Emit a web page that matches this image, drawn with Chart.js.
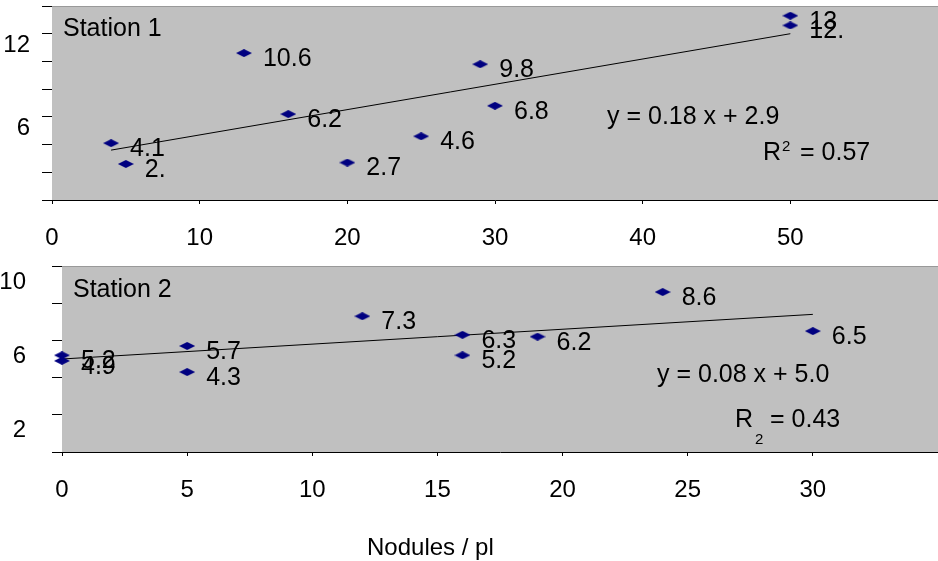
<!DOCTYPE html>
<html>
<head>
<meta charset="utf-8">
<script src="https://cdn.jsdelivr.net/npm/chart.js@4"></script>
<style>
  html, body { margin: 0; padding: 0; overflow: hidden; background: #fff; }
  canvas { display: block; }
</style>
</head>
<body>
<canvas id="chartStation1" width="938" height="255"></canvas>
<canvas id="chartStation2" width="938" height="306"></canvas>
<script>
// Station 1
const s1X = [4, 5, 13, 16, 20, 25, 29, 30, 50, 50];
const s1Y = [4.1, 2.6, 10.6, 6.2, 2.7, 4.6, 9.8, 6.8, 13.3, 12.6];
const s1Labels = ['4.1', '2.', '10.6', '6.2', '2.7', '4.6', '9.8', '6.8', '13', '12.'];
const s1TrendX = [4, 50];
const s1TrendY = [3.6, 12.0];
const s1XTicks = [0, 10, 20, 30, 40, 50];
const s1YTicks = [6, 12];

// Station 2
const s2X = [0, 0, 5, 5, 12, 16, 16, 19, 24, 30];
const s2Y = [5.2, 4.9, 5.7, 4.3, 7.3, 6.3, 5.2, 6.2, 8.6, 6.5];
const s2Labels = ['5.2', '4.9', '5.7', '4.3', '7.3', '6.3', '5.2', '6.2', '8.6', '6.5'];
const s2TrendX = [0, 30];
const s2TrendY = [5.0, 7.4];
const s2XTicks = [0, 5, 10, 15, 20, 25, 30];
const s2YTicks = [2, 6, 10];

const FONT = '"Liberation Sans", Arial, sans-serif';

// flat navy diamond used as marker
function diamond(w, h) {
  const c = document.createElement('canvas');
  c.width = w; c.height = h;
  const g = c.getContext('2d');
  g.fillStyle = '#000080';
  g.beginPath();
  g.moveTo(w / 2, 0); g.lineTo(w, h / 2); g.lineTo(w / 2, h); g.lineTo(0, h / 2);
  g.closePath();
  g.fill();
  return c;
}
const marker = diamond(16, 8);

function toPoints(xs, ys) {
  return xs.map((x, i) => ({ x: x, y: ys[i] }));
}

// gray plot area, point labels and free texts
function decorPlugin(labels, texts) {
  return {
    id: 'decor',
    beforeDatasetsDraw(chart) {
      const a = chart.chartArea, ctx = chart.ctx;
      ctx.save();
      ctx.fillStyle = '#c0c0c0';
      ctx.fillRect(a.left, a.top, a.right - a.left, a.bottom - a.top);
      ctx.strokeStyle = '#999999';
      ctx.lineWidth = 1;
      ctx.beginPath();
      ctx.moveTo(a.left, a.top + 0.5);
      ctx.lineTo(a.right, a.top + 0.5);
      ctx.stroke();
      ctx.restore();
    },
    afterDatasetsDraw(chart) {
      const a = chart.chartArea, ctx = chart.ctx;
      ctx.save();
      ctx.fillStyle = '#000';
      ctx.textAlign = 'left';
      ctx.textBaseline = 'middle';
      ctx.font = '25px ' + FONT;
      chart.getDatasetMeta(0).data.forEach((pt, i) => {
        ctx.fillText(labels[i], pt.x + 19, pt.y + 6);
      });
      texts.forEach(t => {
        ctx.font = (t.size || 25) + 'px ' + FONT;
        ctx.fillText(t.text, a.left + t.dx, a.top + t.dy);
      });
      ctx.restore();
    }
  };
}

function makeChart(id, cfg) {
  const ctx = document.getElementById(id).getContext('2d');
  return new Chart(ctx, {
    type: 'scatter',
    data: {
      datasets: [{
        data: toPoints(cfg.xs, cfg.ys),
        pointStyle: marker,
        pointRadius: 8,
        clip: false
      }, {
        data: toPoints(cfg.trendX, cfg.trendY),
        showLine: true,
        borderColor: '#000',
        borderWidth: 1,
        pointRadius: 0,
        clip: false
      }]
    },
    options: {
      responsive: false,
      devicePixelRatio: 1,
      animation: false,
      layout: { autoPadding: false, padding: { top: cfg.padTop, left: 0, right: 0, bottom: 0 } },
      plugins: { legend: { display: false }, tooltip: { enabled: false } },
      scales: {
        x: {
          type: 'linear', min: 0, max: cfg.xMax,
          ticks: {
            stepSize: cfg.xStep, autoSkip: false, maxRotation: 0,
            color: '#000', font: { size: 24, family: FONT }, padding: 20,
            callback: v => cfg.xTicks.includes(v) ? String(v) : ''
          },
          grid: { drawOnChartArea: false, color: '#000', tickLength: 4 },
          border: { color: '#000' },
          afterFit: s => {
            s.height = cfg.xHeight;
            s.paddingLeft = 0; s.paddingRight = 0;
          }
        },
        y: {
          type: 'linear', min: 0, max: cfg.yMax,
          ticks: {
            stepSize: 2, autoSkip: false,
            color: '#000', font: { size: 24, family: FONT },
            padding: cfg.yPad, labelOffset: cfg.yLabelOffset,
            callback: v => cfg.yTicks.includes(v) ? String(v) : ''
          },
          grid: { drawOnChartArea: false, color: '#000', tickLength: 10 },
          border: { color: '#000' },
          afterFit: s => {
            s.width = cfg.yWidth;
            s.paddingTop = 0; s.paddingBottom = 0;
          }
        }
      }
    },
    plugins: [decorPlugin(cfg.labels, cfg.texts)]
  });
}

makeChart('chartStation1', {
  xs: s1X, ys: s1Y, labels: s1Labels, trendX: s1TrendX, trendY: s1TrendY,
  xMax: 60, xStep: 10, xTicks: s1XTicks, yMax: 14, yTicks: s1YTicks,
  padTop: 6, xHeight: 55, yWidth: 52, yPad: 12, yLabelOffset: 12,
  texts: [
    { text: 'Station 1', dx: 11, dy: 23 },
    { text: 'y = 0.18 x + 2.9', dx: 555, dy: 111 },
    { text: 'R', dx: 711, dy: 147 },
    { text: '2', dx: 730, dy: 141, size: 15 },
    { text: '= 0.57', dx: 748, dy: 147 }
  ]
});

makeChart('chartStation2', {
  xs: s2X, ys: s2Y, labels: s2Labels, trendX: s2TrendX, trendY: s2TrendY,
  xMax: 35, xStep: 5, xTicks: s2XTicks, yMax: 10, yTicks: s2YTicks,
  padTop: 11, xHeight: 109, yWidth: 62, yPad: 26, yLabelOffset: 16,
  texts: [
    { text: 'Station 2', dx: 11, dy: 24 },
    { text: 'y = 0.08 x + 5.0', dx: 595, dy: 109 },
    { text: 'R', dx: 673, dy: 154 },
    { text: '2', dx: 693, dy: 174, size: 15 },
    { text: '= 0.43', dx: 708, dy: 154 },
    { text: 'Nodules / pl', dx: 305, dy: 282, size: 24 }
  ]
});
</script>
</body>
</html>
